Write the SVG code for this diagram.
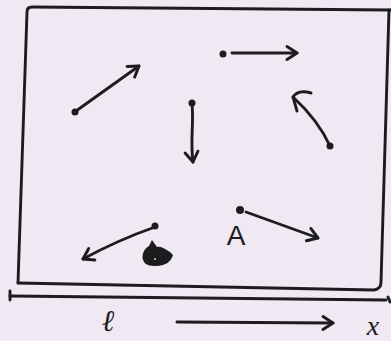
<svg xmlns="http://www.w3.org/2000/svg" width="391" height="341" viewBox="0 0 391 341">
<defs>
<style>
.ink{fill:none;stroke:#1c1c1e;stroke-width:2.9;stroke-linecap:round;stroke-linejoin:round}
.dot{fill:#1c1c1e}
.lbl{fill:#1c1c1e}
</style>
<marker id="ah" viewBox="-13 -9 15 18" markerWidth="15" markerHeight="18" refX="0" refY="0" orient="auto" markerUnits="userSpaceOnUse">
<path d="M-10,-6.5 L0,0 L-10,6.5" fill="none" stroke="#1c1c1e" stroke-width="2.9" stroke-linecap="round" stroke-linejoin="round"/>
</marker>
</defs>
<rect width="391" height="341" fill="#f0e8f2"/>
<g id="box">
<path class="ink" d="M18,283 L27,12 Q27,7 32,7 L391,10"/>
<path class="ink" d="M389,10 L381,282 Q381,289 374,290 L18,283"/>
</g>
<g id="axis">
<path class="ink" d="M10,296 L386,300"/>
<path class="ink" d="M10,291 L10,300"/>
<path class="ink" d="M388,297 L390,302"/>
<path class="ink" d="M177,322 L333,323" marker-end="url(#ah)"/>
<text class="lbl" x="108" y="331" font-family="DejaVu Serif, serif" font-style="italic" font-size="30" text-anchor="middle">ℓ</text>
<text class="lbl" x="373" y="335" font-family="Liberation Serif, serif" font-style="italic" font-size="28" text-anchor="middle">x</text>
</g>
<g id="p1"><circle class="dot" cx="75" cy="112" r="3.5"/></g>
<g id="p2"><circle class="dot" cx="223" cy="54" r="3.5"/></g>
<g id="p3"><circle class="dot" cx="192" cy="103" r="3.5"/></g>
<g id="p4"><circle class="dot" cx="330" cy="146" r="3.5"/></g>
<g id="p5"><circle class="dot" cx="155" cy="226" r="3.5"/></g>
<g id="pA"><circle class="dot" cx="240" cy="210" r="4"/>
<text class="lbl" x="236" y="245" font-family="Liberation Sans, sans-serif" font-size="28" text-anchor="middle">A</text></g>
<g id="blob"><path class="dot" d="M144,262 C140,255 145,248 149,246 L152,240 L157,247 C162,246 166,250 170,252 L173,255 C171,262 165,266 156,266 C150,266 146,265 144,262 Z"/>
<circle cx="155" cy="259" r="1" fill="#d8d0dc"/></g>
<g id="connectors">
<path class="ink" d="M76,111 L139,66" marker-end="url(#ah)"/>
<path class="ink" d="M232,53 L297,53" marker-end="url(#ah)"/>
<path class="ink" d="M192,104 C194,122 190,142 193,162" marker-end="url(#ah)"/>
<path class="ink" d="M330,146 Q318,120 293,97"/>
<path class="ink" d="M297,111 L293,97 Q298,89 311,93"/>
<path class="ink" d="M155,227 Q118,240 83,259" marker-end="url(#ah)"/>
<path class="ink" d="M246,212 L318,238" marker-end="url(#ah)"/>
</g>
</svg>
